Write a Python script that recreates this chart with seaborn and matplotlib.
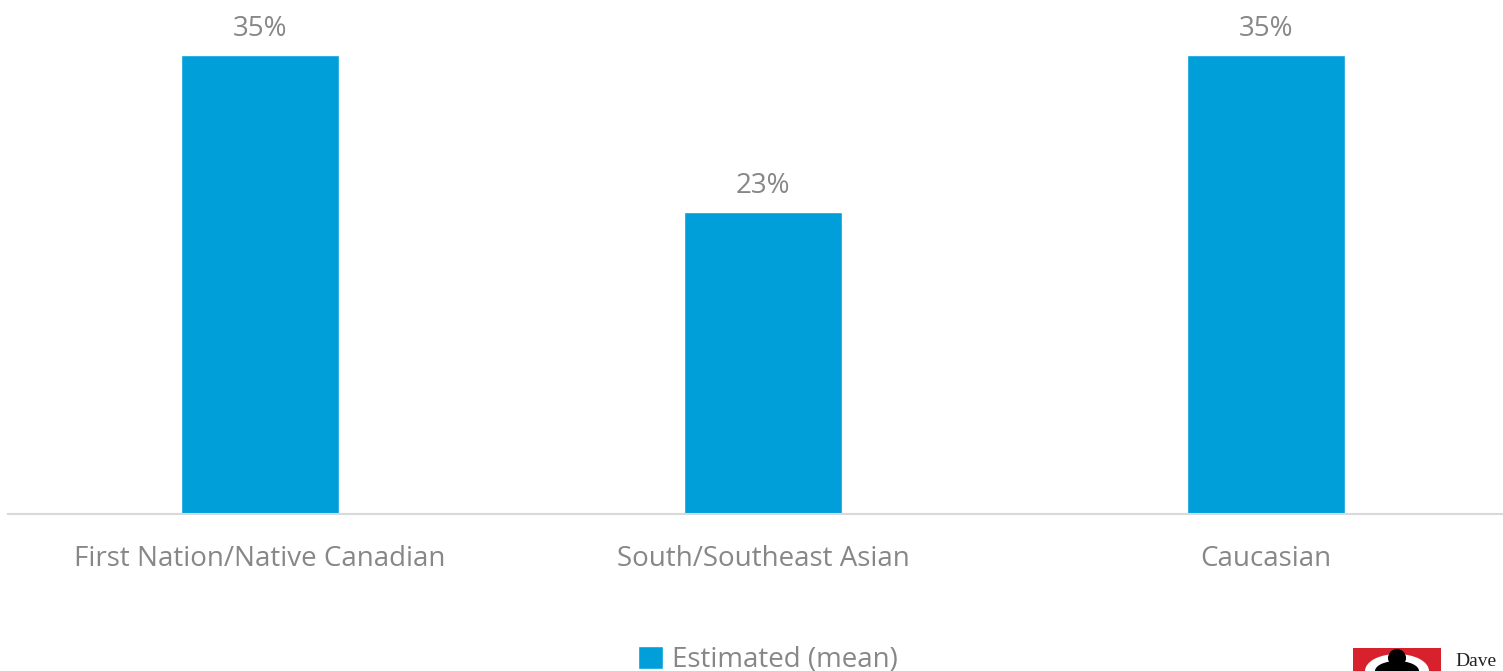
import matplotlib
matplotlib.use("Agg")
import matplotlib.pyplot as plt
import seaborn as sns
import pandas as pd
from matplotlib.patches import Rectangle, Ellipse

categories = ["First Nation/Native Canadian", "South/Southeast Asian", "Caucasian"]
values = [35, 23, 35]
series_name = "Estimated (mean)"

sns.set_theme(style="white")
plt.rcParams['font.family'] = ['Open Sans', 'DejaVu Sans']

df = pd.DataFrame({"group": categories, "value": values})

W, H = 1503, 671
fig = plt.figure(figsize=(W / 100, H / 100), dpi=100)
ax = fig.add_axes([8.5 / W, (H - 514) / H, 1509 / W, 459 / H])

bar_color = "#009FDA"
text_color = "#878787"
sns.barplot(data=df, x="group", y="value", color=bar_color, width=0.314,
            saturation=1, ax=ax, label=series_name)
ax.set_xlim(-0.5, 2.5)
ax.set_ylim(0, 35)

for i, v in enumerate(values):
    ax.text(i, v + 0.95, f"{v}%", ha="center", va="bottom", fontsize=20,
            color=text_color, clip_on=False)

for s in ["top", "right", "left"]:
    ax.spines[s].set_visible(False)
ax.spines["bottom"].set_color("#D9D9D9")
ax.spines["bottom"].set_linewidth(1.5)
ax.set_yticks([])
ax.set_xlabel("")
ax.set_ylabel("")
ax.tick_params(axis="x", length=0, pad=22, labelsize=20, labelcolor=text_color)

leg = ax.legend(loc="center", bbox_to_anchor=(768 / W, (H - 660) / H),
                bbox_transform=fig.transFigure, frameon=False, fontsize=20,
                handlelength=0.9, handleheight=0.9, handletextpad=0.3)
for t in leg.get_texts():
    t.set_color(text_color)

# partial logo at bottom-right corner
fig.patches.append(Rectangle((1353 / W, 0), 88 / W, 23 / H, transform=fig.transFigure,
                             facecolor="#D7222E", edgecolor="none"))
fig.patches.append(Ellipse((1397 / W, 0), 64 / W, 34 / H, transform=fig.transFigure,
                           facecolor="white", edgecolor="none"))
fig.patches.append(Ellipse((1397 / W, 0), 44 / W, 20 / H, transform=fig.transFigure,
                           facecolor="black", edgecolor="none"))
fig.patches.append(Ellipse((1397 / W, 13 / H), 18 / W, 18 / H, transform=fig.transFigure,
                           facecolor="black", edgecolor="none"))
fig.text(1455 / W, (H - 661) / H, "Dave", family="Liberation Serif", fontsize=14,
         color="#222222", va="center", ha="left")

fig.savefig("out.png", dpi=100)
